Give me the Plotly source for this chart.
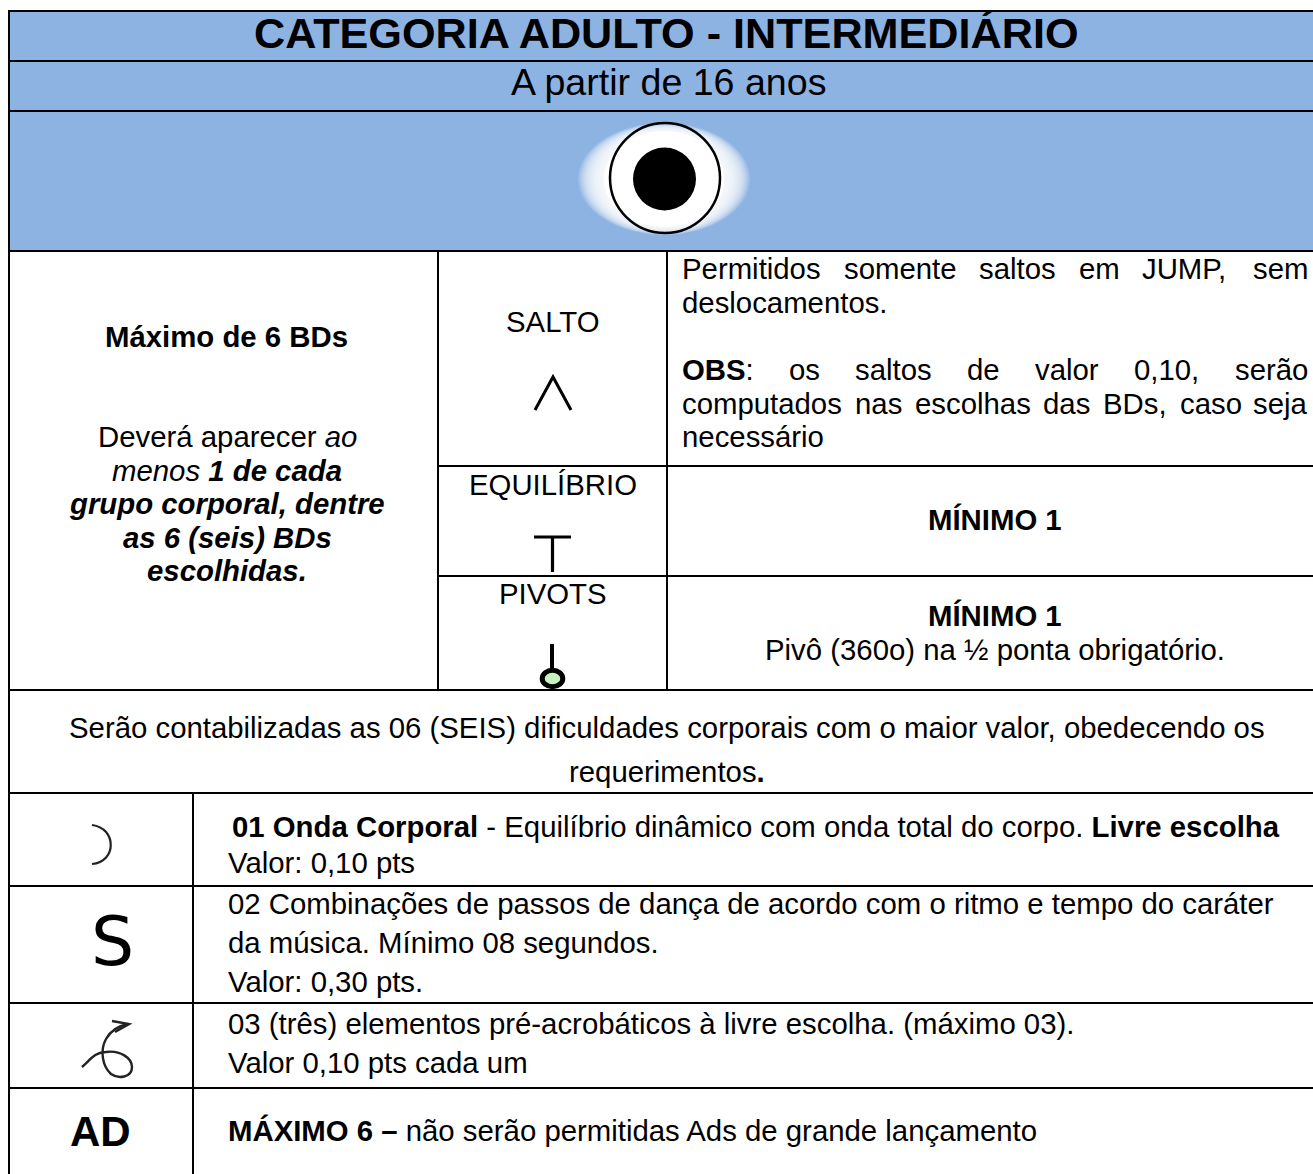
import plotly.graph_objects as go

TITLE = "<b>CATEGORIA ADULTO - INTERMEDIÁRIO</b>"
SUBTITLE = "A partir de 16 anos"
LEFT_HEAD = "<b>Máximo de 6 BDs</b>"
LEFT_BODY = ["Deverá aparecer <i>ao</i>", "<i>menos <b>1 de cada</b></i>", "<b><i>grupo corporal, dentre</i></b>",
             "<b><i>as 6 (seis) BDs</i></b>", "<b><i>escolhidas.</i></b>"]
GROUPS = ["SALTO", "EQUILÍBRIO", "PIVOTS"]
J1 = ["Permitidos", "somente", "saltos", "em", "JUMP,", "sem"]
J1B = "deslocamentos."
J2 = ["<b>OBS</b>:", "os", "saltos", "de", "valor", "0,10,", "serão"]
J3 = ["computados", "nas", "escolhas", "das", "BDs,", "caso", "seja"]
J3B = "necessário"
MIN1 = "<b>MÍNIMO 1</b>"
PIVOT_NOTE = "Pivô (360o) na ½ ponta obrigatório."
NOTE = ["Serão contabilizadas as 06 (SEIS) dificuldades corporais com o maior valor, obedecendo os", "requerimentos<b>.</b>"]
ROW1 = ["<b>01 Onda Corporal</b> - Equilíbrio dinâmico com onda total do corpo. <b>Livre escolha</b>", "Valor: 0,10 pts"]
ROW2 = ["02 Combinações de passos de dança de acordo com o ritmo e tempo do caráter", "da música. Mínimo 08 segundos.", "Valor: 0,30 pts."]
ROW3 = ["03 (três) elementos pré-acrobáticos à livre escolha. (máximo 03).", "Valor 0,10 pts cada um"]
ROW4 = "<b>MÁXIMO 6 –</b> não serão permitidas Ads de grande lançamento"

BLUE = "#8DB3E2"
FS = 29.35
shapes, ann = [], []

def line(x0, y0, x1, y1, w=2):
    shapes.append(dict(type="line", x0=x0, y0=y0, x1=x1, y1=y1, line=dict(color="black", width=w)))

def text(s, x, y, anchor="left", size=FS, font="Liberation Sans"):
    ann.append(dict(text=s, x=x, y=y - 1, xref="x", yref="y", xanchor=anchor, yanchor="middle", showarrow=False,
                    align=anchor, font=dict(family=font, size=size, color="black")))

def path(d, w=2.5, color="black", fill=None):
    s = dict(type="path", path=d, line=dict(color=color, width=w))
    if fill:
        s["fillcolor"] = fill
    shapes.append(s)

def ellipse(cx, cy, rx, ry, fill="white", op=1.0, lw=0, lc="black"):
    shapes.append(dict(type="circle", x0=cx-rx, x1=cx+rx, y0=cy-ry, y1=cy+ry, fillcolor=fill, opacity=op,
                       line=dict(width=lw, color=lc)))

# header fill
shapes.append(dict(type="rect", x0=9, x1=1313, y0=11, y1=251, fillcolor=BLUE, line=dict(width=0)))

# eye icon: soft halo
for i in range(24):
    ellipse(664, 179, 86 - i*1.3, 56 - i*0.4, op=0.13)
ellipse(664, 179, 60, 48)
ellipse(665, 178, 55, 55, fill="rgba(0,0,0,0)", lw=2.5)
ellipse(664.5, 179, 31.5, 31.5, fill="black")

# grid
for y in [11, 61, 111, 251, 690, 793, 886, 1003, 1088]:
    line(9, y, 1313, y)
line(9, 10, 9, 1174)
line(438, 251, 438, 690)
line(667, 251, 667, 690)
line(438, 466, 1313, 466)
line(438, 576, 1313, 576)
line(193, 793, 193, 1174)

# symbols
path("M 535 410 L 553 377 L 571 410", 3)
path("M 534 537 L 571 537 M 552.5 537 L 552.5 572", 3.2)
path("M 552 644 L 552 669", 4)
ellipse(552.5, 678.5, 10.3, 8.2, fill="#C6F5C0", lw=5)
path("M 92 825 C 117 828 117 862 92 864", 2.2, "#222")
path("M 82 1067 C 90 1060 95 1052 106 1052 C 120 1050 132 1058 132 1067 C 132 1078 118 1079 111 1074 C 102 1066 100 1050 106 1039 C 111 1030 118 1026 128 1024", 2.4, "#222")
path("M 112 1021 L 129 1024 L 115 1032", 2.4, "#222")

# header text
text(TITLE, 666, 34, "center", 43.2)
text(SUBTITLE, 668, 83, "center", 37.6)

# left block
text(LEFT_HEAD, 226, 337, "center")
for s, y in zip(LEFT_BODY, [437, 471, 504, 538, 571]):
    text(s, 227, y, "center")

# groups
for s, y in zip(GROUPS, [322, 485, 594]):
    text(s, 553, y, "center")

# justified block
for s, x in zip(J1[:-1], [680, 841.5, 977, 1076.5, 1140]):
    text(s, x, 269)
text(J1[-1], 1310, 269, "right")
text(J1B, 680, 303)
for s, x in zip(J2[:-1], [680, 787, 853, 965, 1033, 1132]):
    text(s, x, 370)
text(J2[-1], 1310, 370, "right")
for s, x in zip(J3[:-1], [680, 852.6, 912.6, 1041.2, 1101.2, 1177.5]):
    text(s, x, 404)
text(J3[-1], 1310, 404, "right")
text(J3B, 680, 437)

text(MIN1, 995, 520, "center")
text(MIN1, 995, 616, "center")
text(PIVOT_NOTE, 995, 650, "center")

# note
for s, y in zip(NOTE, [728, 772]):
    text(s, 667, y, "center")

# rows
text(ROW1[0], 230, 827)
text(ROW1[1], 226, 863)
for s, y in zip(ROW2, [904, 943, 982]):
    text(s, 226, y)
for s, y in zip(ROW3, [1024, 1063]):
    text(s, 226, y)
text(ROW4, 226, 1131)
text("S", 112, 942, "center", 68, "DejaVu Sans")
text("<b>AD</b>", 100, 1132, "center", 42)

fig = go.Figure()
fig.update_layout(width=1313, height=1174, margin=dict(l=0, r=0, t=0, b=0), paper_bgcolor="white", plot_bgcolor="white",
                  xaxis=dict(range=[0, 1313], visible=False, fixedrange=True),
                  yaxis=dict(range=[1174, 0], visible=False, fixedrange=True),
                  shapes=shapes, annotations=ann, showlegend=False)
fig.write_html("out.html", config=dict(displayModeBar=False),
               post_script="document.body.style.margin='0';document.body.style.overflow='hidden';")
